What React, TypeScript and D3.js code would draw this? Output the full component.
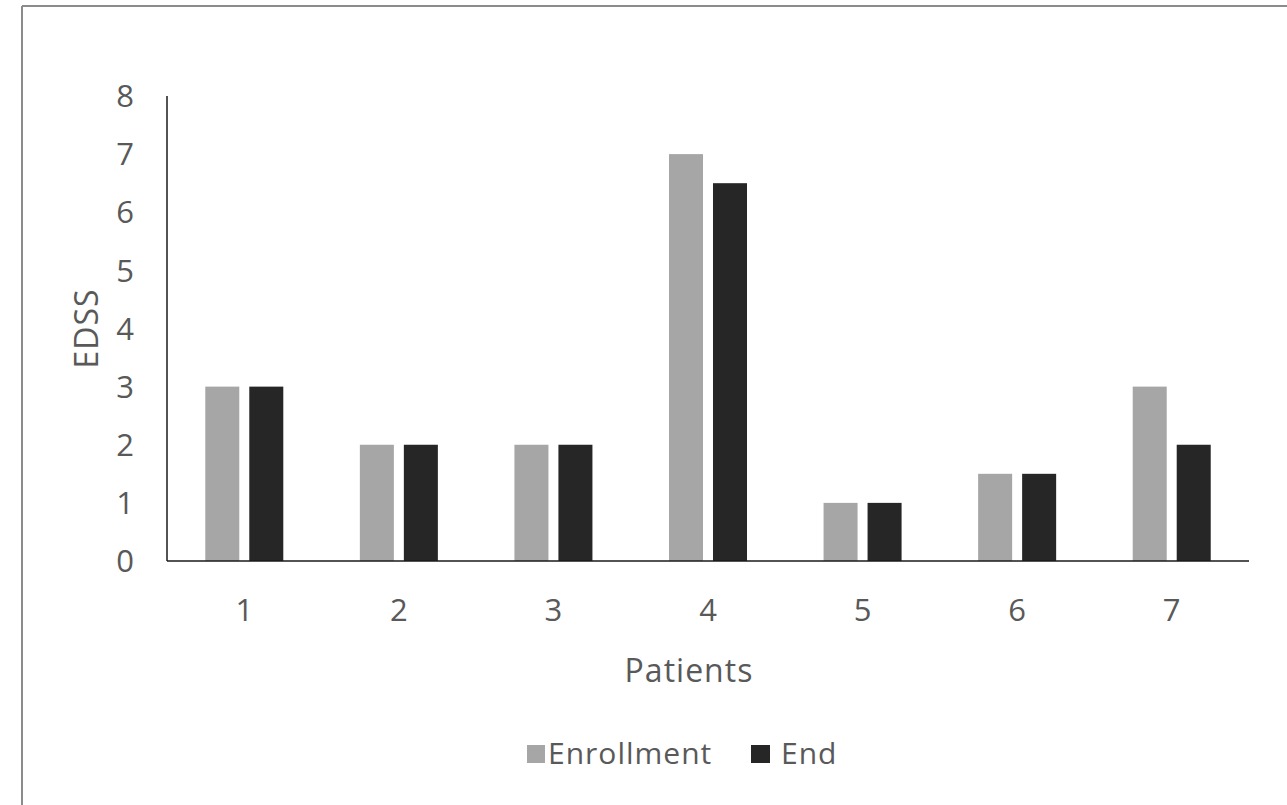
import React from "react";
import * as d3 from "d3";

const categories = ["1", "2", "3", "4", "5", "6", "7"];
const seriesNames = ["Enrollment", "End"];
const enrollment = [3, 2, 2, 7, 1, 1.5, 3];
const end = [3, 2, 2, 6.5, 1, 1.5, 2];
const yTicks = [0, 1, 2, 3, 4, 5, 6, 7, 8];
const colors = ["#A6A6A6", "#262626"];

const W = 1287;
const H = 805;
const FONT = "'Open Sans', 'Noto Sans', sans-serif";
const TEXT = "#595959";

export default function App() {
  const x0 = d3.scaleBand<string>().domain(categories).range([167, 1249]).paddingInner(0).paddingOuter(0);
  const x1 = d3
    .scaleBand<string>()
    .domain(seriesNames)
    .range([0, x0.bandwidth()])
    .paddingInner(0.227)
    .paddingOuter(0.87);
  const y = d3.scaleLinear().domain([0, 8]).range([561, 96]);
  const data = [enrollment, end];

  return (
    <svg
      width={W}
      height={H}
      style={{ position: "absolute", left: 0, top: 0, background: "#fff" }}
    >
      <rect x={0} y={0} width={W} height={H} fill="#fff" />
      {/* outer frame (top and left visible) */}
      <line x1={22} y1={6} x2={W} y2={6} stroke="#8c8c8c" strokeWidth={2} />
      <line x1={22} y1={6} x2={22} y2={H} stroke="#8c8c8c" strokeWidth={2} />

      {/* bars */}
      {seriesNames.map((s, si) =>
        categories.map((c, ci) => (
          <rect
            key={s + c}
            x={(x0(c) as number) + (x1(s) as number)}
            y={y(data[si][ci])}
            width={x1.bandwidth()}
            height={y(0) - y(data[si][ci])}
            fill={colors[si]}
          />
        ))
      )}

      {/* axes */}
      <line x1={167} y1={y(8)} x2={167} y2={y(0)} stroke="#1a1a1a" strokeWidth={1.5} />
      <line x1={167} y1={y(0)} x2={1249} y2={y(0)} stroke="#1a1a1a" strokeWidth={1.5} />

      {/* y tick labels */}
      {yTicks.map((t) => (
        <text
          key={t}
          x={134}
          y={y(t)}
          dy="0.36em"
          textAnchor="end"
          fontFamily={FONT}
          fontSize={31}
          fill={TEXT}
        >
          {t}
        </text>
      ))}

      {/* x tick labels */}
      {categories.map((c) => (
        <text
          key={c}
          x={(x0(c) as number) + x0.bandwidth() / 2}
          y={621}
          textAnchor="middle"
          fontFamily={FONT}
          fontSize={31}
          fill={TEXT}
        >
          {c}
        </text>
      ))}

      {/* axis titles */}
      <text
        x={689}
        y={682}
        textAnchor="middle"
        fontFamily={FONT}
        fontSize={32}
        letterSpacing={1}
        fill={TEXT}
      >
        Patients
      </text>
      <text
        transform={`translate(98, ${(y(0) + y(8)) / 2}) rotate(-90)`}
        textAnchor="middle"
        fontFamily={FONT}
        fontSize={32}
        letterSpacing={1}
        fill={TEXT}
      >
        EDSS
      </text>

      {/* legend */}
      <rect x={527} y={745} width={18} height={18} fill={colors[0]} />
      <text x={548} y={764} fontFamily={FONT} fontSize={30} letterSpacing={1} fill={TEXT}>
        {seriesNames[0]}
      </text>
      <rect x={751} y={745} width={19} height={18} fill={colors[1]} />
      <text x={781} y={764} fontFamily={FONT} fontSize={30} letterSpacing={1} fill={TEXT}>
        {seriesNames[1]}
      </text>
    </svg>
  );
}
